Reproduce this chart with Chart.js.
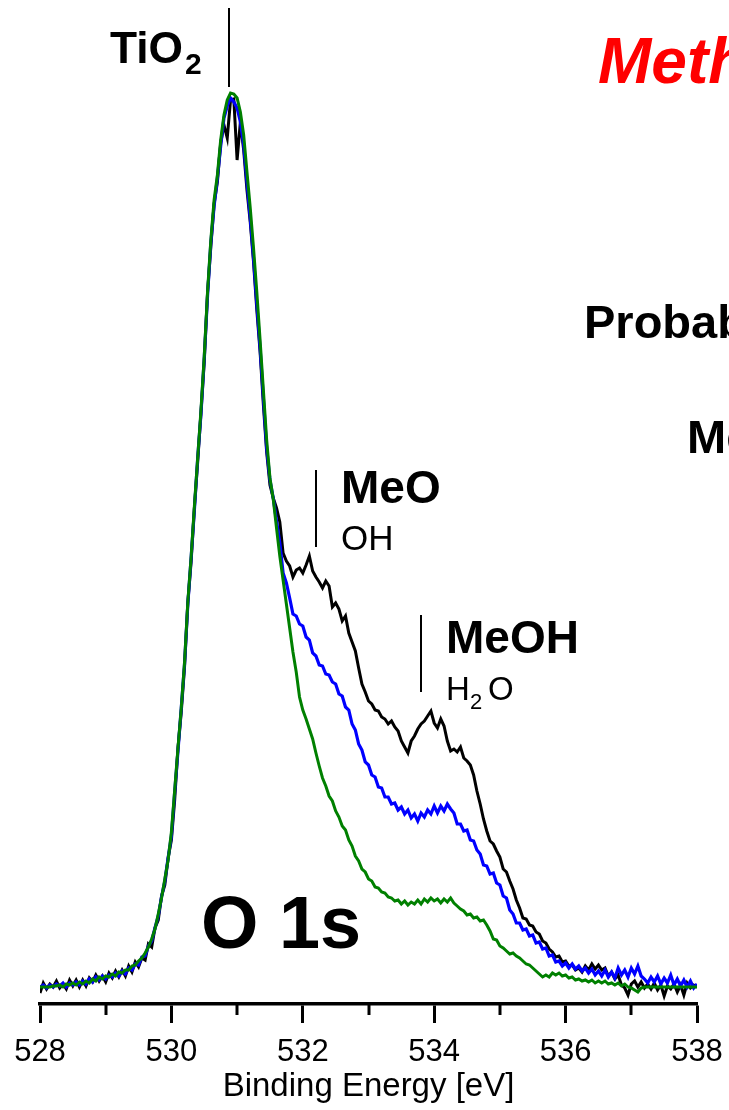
<!DOCTYPE html>
<html><head><meta charset="utf-8">
<script src="https://cdn.jsdelivr.net/npm/chart.js@4.4.1/dist/chart.umd.min.js"></script>
<style>html,body{margin:0;padding:0;background:#fff;overflow:hidden}#c{display:block}</style>
</head><body>
<canvas id="c" width="729" height="1110"></canvas>
<script>
// Binding energy grid [eV]
const energies = [
528.00,528.05,528.10,528.15,528.20,528.25,528.30,528.35,528.40,528.45,
528.50,528.55,528.60,528.65,528.70,528.75,528.80,528.85,528.90,528.95,
529.00,529.05,529.10,529.15,529.20,529.25,529.30,529.35,529.40,529.45,
529.50,529.55,529.60,529.65,529.70,529.75,529.80,529.85,529.90,529.95,
530.00,530.05,530.10,530.15,530.20,530.25,530.30,530.35,530.40,530.45,
530.50,530.55,530.60,530.65,530.70,530.75,530.80,530.85,530.90,530.95,
531.00,531.05,531.10,531.15,531.20,531.25,531.30,531.35,531.40,531.45,
531.50,531.55,531.60,531.65,531.70,531.75,531.80,531.85,531.90,531.95,
532.00,532.05,532.10,532.15,532.20,532.25,532.30,532.35,532.40,532.45,
532.50,532.55,532.60,532.65,532.70,532.75,532.80,532.85,532.90,532.95,
533.00,533.05,533.10,533.15,533.20,533.25,533.30,533.35,533.40,533.45,
533.50,533.55,533.60,533.65,533.70,533.75,533.80,533.85,533.90,533.95,
534.00,534.05,534.10,534.15,534.20,534.25,534.30,534.35,534.40,534.45,
534.50,534.55,534.60,534.65,534.70,534.75,534.80,534.85,534.90,534.95,
535.00,535.05,535.10,535.15,535.20,535.25,535.30,535.35,535.40,535.45,
535.50,535.55,535.60,535.65,535.70,535.75,535.80,535.85,535.90,535.95,
536.00,536.05,536.10,536.15,536.20,536.25,536.30,536.35,536.40,536.45,
536.50,536.55,536.60,536.65,536.70,536.75,536.80,536.85,536.90,536.95,
537.00,537.05,537.10,537.15,537.20,537.25,537.30,537.35,537.40,537.45,
537.50,537.55,537.60,537.65,537.70,537.75,537.80,537.85,537.90,537.95,
538.00];

// Intensity (a.u.) - black spectrum
const blackSeries = [
7,17,11,16,13,19,12,16,11,20,
14,20,13,20,14,22,18,25,19,24,
18,27,22,29,23,30,24,34,28,38,
33,42,40,56,53,72,80,104,115,142,
160,200,252,288,333,397,438,492,538,587,
638,707,753,796,818,857,875,862,900,901,
840,878,850,810,778,738,690,648,595,548,
515,502,492,478,447,439,434,423,430,432,
427,435,444,429,423,418,412,419,414,393,
397,391,379,384,367,358,349,332,316,308,
299,296,290,289,283,281,276,279,273,269,
259,253,247,259,264,271,276,279,284,289,
277,272,281,274,259,249,251,248,253,242,
239,235,225,209,196,181,169,159,156,149,
143,131,128,119,111,100,92,82,81,75,
74,68,66,59,57,51,48,43,44,38,
39,34,35,30,32,28,34,30,36,31,
35,30,32,24,28,21,25,15,12,5,
16,19,13,18,12,16,11,17,10,15,
4,14,11,16,8,15,5,17,12,15,
13];

// Intensity (a.u.) - blue spectrum
const blueSeries = [
13,15,12,15,13,16,14,17,13,17,
15,18,15,19,16,21,18,23,20,24,
21,25,23,27,24,29,26,32,30,36,
35,43,44,54,59,72,84,103,119,142,
164,208,249,292,336,396,442,490,542,586,
642,704,757,794,822,854,882,894,902,898,
892,878,855,818,782,742,696,652,602,552,
520,502,479,457,427,417,402,386,384,376,
374,363,360,347,344,335,334,326,325,318,
316,306,304,293,290,276,270,256,250,238,
235,225,223,213,212,203,203,196,197,190,
193,186,190,182,186,179,187,183,190,186,
194,187,194,189,196,191,187,176,176,169,
170,160,159,150,146,135,134,126,127,117,
115,104,102,90,86,77,77,70,71,64,
65,57,58,51,52,44,45,38,39,34,
37,32,36,31,34,29,32,27,31,25,
29,24,30,23,28,22,32,25,30,23,
32,26,34,24,21,17,23,18,24,16,
22,17,25,15,21,14,20,13,19,12,
16];

// Intensity (a.u.) - green spectrum
const greenSeries = [
13,13,13,13,14,14,15,13,16,15,
17,15,18,16,19,17,21,19,23,21,
24,23,26,24,28,27,30,30,34,35,
39,42,47,53,61,71,86,102,121,140,
168,210,252,292,338,398,443,494,542,590,
644,708,760,800,825,860,885,900,907,906,
902,888,865,828,792,752,708,660,610,560,
522,501,472,444,420,396,372,348,328,303,
290,281,271,261,247,234,222,214,204,199,
189,183,174,170,160,154,144,139,131,128,
121,119,113,112,108,107,103,102,99,100,
96,99,95,98,96,100,96,101,98,102,
99,101,97,101,98,102,97,94,91,89,
85,86,82,83,79,80,75,69,61,60,
54,52,49,46,47,44,42,39,36,35,
32,29,26,23,25,23,27,25,27,24,
25,22,23,20,21,19,20,18,20,17,
19,17,19,16,17,15,17,14,16,13,
12,10,8,12,13,13,13,13,13,13,
13,13,13,13,13,13,13,13,13,13,
13];

const majorTicks = [528, 530, 532, 534, 536, 538];
const markerEnergies = [530.88, 532.2, 533.8];   // TiO2, MeO/OH, MeOH/H2O

const pts = arr => arr.map((v, i) => ({x: energies[i], y: v}));

const FONT = '"Liberation Sans", Arial, Helvetica, sans-serif';

const decor = {
  id: 'decor',
  afterDraw(chart) {
    const ctx = chart.ctx, xs = chart.scales.x, ys = chart.scales.y;
    ctx.save();
    // minor ticks
    ctx.strokeStyle = '#000'; ctx.lineWidth = 3;
    xs.ticks.forEach(t => {
      if (!majorTicks.includes(t.value)) {
        const px = Math.round(xs.getPixelForValue(t.value));
        ctx.beginPath(); ctx.moveTo(px, xs.top + 1); ctx.lineTo(px, xs.top + 11); ctx.stroke();
      }
    });
    // marker lines
    const spans = [[992, 913], [530, 453], [385, 308]];
    ctx.lineWidth = 2;
    markerEnergies.forEach((e, i) => {
      const px = Math.round(xs.getPixelForValue(e));
      ctx.beginPath();
      ctx.moveTo(px, ys.getPixelForValue(spans[i][0]));
      ctx.lineTo(px, ys.getPixelForValue(spans[i][1]));
      ctx.stroke();
    });
    // texts
    ctx.textBaseline = 'alphabetic';
    ctx.textAlign = 'left';
    const t = (s, x, y, font, mw, color) => {
      ctx.font = font; ctx.fillStyle = color || '#000';
      if (mw) ctx.fillText(s, x, y, mw); else ctx.fillText(s, x, y);
    };
    t('TiO', 110, 63, 'bold 45px ' + FONT, 73);
    t('2', 185, 74, 'bold 30px ' + FONT);
    t('MeO', 341, 503, 'bold 46px ' + FONT);
    t('OH', 341, 550, '35px ' + FONT);
    t('MeOH', 446, 653, 'bold 46px ' + FONT);
    t('H', 446, 700, '33px ' + FONT);
    t('2', 470, 709, '22px ' + FONT);
    t('O', 488, 700, '33px ' + FONT);
    t('O 1s', 201, 948, 'bold 75px ' + FONT, 160);
    t('Meth', 598, 83, 'italic bold 64px ' + FONT, null, '#ff0000');
    t('Probab', 584, 338, 'bold 47px ' + FONT);
    t('Me', 687, 453, 'bold 47px ' + FONT);
    ctx.restore();
  }
};

new Chart(document.getElementById('c'), {
  type: 'line',
  data: {
    datasets: [
      {label: 'green', data: pts(greenSeries), borderColor: '#008000', borderWidth: 3},
      {label: 'blue', data: pts(blueSeries), borderColor: '#0000ff', borderWidth: 3.2},
      {label: 'black', data: pts(blackSeries), borderColor: '#000000', borderWidth: 3}
    ]
  },
  options: {
    responsive: false,
    animation: false,
    devicePixelRatio: 1,
    layout: {padding: {left: 40, right: 32, top: 0, bottom: 0}},
    elements: {point: {radius: 0}, line: {tension: 0, fill: false}},
    plugins: {legend: {display: false}, tooltip: {enabled: false}},
    scales: {
      x: {
        type: 'linear', min: 528, max: 538,
        afterFit: s => { s.height = 106; s.paddingLeft = 0; s.paddingRight = 0; },
        border: {display: true, color: '#000', width: 3.5},
        grid: {drawOnChartArea: false, drawTicks: true, tickLength: 19, tickWidth: 3,
               tickColor: c => (c.tick && majorTicks.includes(c.tick.value)) ? '#000' : 'rgba(0,0,0,0)'},
        ticks: {stepSize: 1, autoSkip: false, maxRotation: 0, padding: 11, color: '#000',
                font: {family: FONT, size: 31},
                callback: v => majorTicks.includes(v) ? String(v) : ''},
        title: {display: true, text: 'Binding Energy [eV]', color: '#000',
                font: {family: FONT, size: 33}, padding: {top: 0, bottom: 3}}
      },
      y: {display: false, min: -4, max: 1000}
    }
  },
  plugins: [decor]
});
</script>
</body></html>
